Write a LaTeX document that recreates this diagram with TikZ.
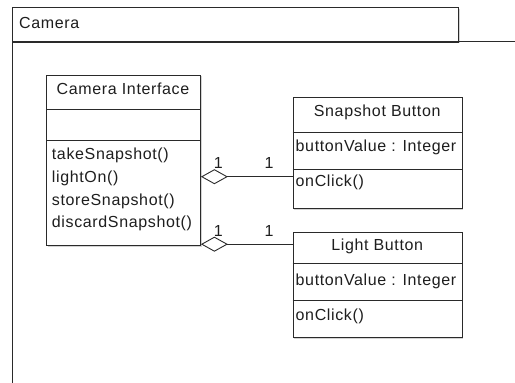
\documentclass[tikz,border=0pt]{standalone}
\usepackage{fontspec}
\setmainfont{Liberation Sans}[LetterSpace=4]
\usetikzlibrary{arrows.meta,shadows}

\definecolor{ink}{HTML}{1E1E1E}
\definecolor{edge}{HTML}{2A2A2A}

\tikzset{
  umlfont/.style={font=\fontsize{16}{19}\selectfont, text=ink},
  box/.style={draw=edge, line width=0.9pt, fill=white, inner sep=0pt,
              anchor=north west,
              drop shadow={shadow xshift=1.2pt, shadow yshift=-1.2pt, opacity=0.35}},
  ghost/.style={inner sep=0pt, anchor=north west},
  sep/.style={draw=edge, line width=0.9pt},
  lefttext/.style={umlfont, inner sep=0pt, anchor=base west},
  midtext/.style={umlfont, inner sep=0pt, anchor=base},
  mult/.style={umlfont, inner sep=0pt, anchor=base},
  agg/.style={draw=edge, line width=0.9pt,
              {Diamond[open, length=27pt, width=15pt, line width=0.9pt]}-}
}

\begin{document}
\begin{tikzpicture}[x=1pt, y=-1pt]
  \useasboundingbox (0,0) rectangle (515,383);

  % package frame: tab plus open body
  \node[box] (pkgtab) at (12.3,7.3) [minimum width=446pt, minimum height=34.4pt] {};
  \node[ghost, minimum width=510pt, minimum height=350pt] (pkgbody) at (12.3,41.7) {};
  \draw[sep] (pkgbody.north east) -- (pkgbody.north west) -- (pkgbody.south west);
  \node[lefttext] (pkgname) at (19,28.3) {Camera};

  % class: Camera Interface
  \node[box, minimum width=154pt, minimum height=170.3pt] (ci) at (46,74.7) {};
  \draw[sep] (ci.west |- 0,109) -- (ci.east |- 0,109);
  \draw[sep] (ci.west |- 0,140) -- (ci.east |- 0,140);
  \node[midtext] (ciname) at (123,94.7) {Camera Interface};
  \node[lefttext] (m1) at (51.7,159.5) {takeSnapshot()};
  \node[lefttext] (m2) at (51.7,182.2) {lightOn()};
  \node[lefttext] (m3) at (51.7,205.0) {storeSnapshot()};
  \node[lefttext] (m4) at (51.7,227.7) {discardSnapshot()};

  % class: Snapshot Button
  \node[box, minimum width=169pt, minimum height=111pt] (snap) at (292.7,97.3) {};
  \draw[sep] (snap.west |- 0,132.3) -- (snap.east |- 0,132.3);
  \draw[sep] (snap.west |- 0,169) -- (snap.east |- 0,169);
  \node[midtext] (snapname) at (377.2,116.7) {Snapshot Button};
  \node[lefttext] (snapattr) at (295.5,151.7) {buttonValue : Integer};
  \node[lefttext] (snapop) at (295.5,186.8) {onClick()};

  % class: Light Button
  \node[box, minimum width=169pt, minimum height=105pt] (light) at (292.7,232.3) {};
  \draw[sep] (light.west |- 0,263.3) -- (light.east |- 0,263.3);
  \draw[sep] (light.west |- 0,300) -- (light.east |- 0,300);
  \node[midtext] (lightname) at (377.2,250.7) {Light Button};
  \node[lefttext] (lightattr) at (295.5,285.7) {buttonValue : Integer};
  \node[lefttext] (lightop) at (295.5,320.8) {onClick()};

  % aggregations
  \draw[agg] (ci.east |- 0,176.7) -- (snap.west |- 0,176.7);
  \draw[agg] (ci.east |- 0,244.2) -- (light.west |- 0,244.2);
  \node[mult] (s1) at (218.3,168) {1};
  \node[mult] (s2) at (269,168) {1};
  \node[mult] (l1) at (218.3,236.7) {1};
  \node[mult] (l2) at (269,236.7) {1};
\end{tikzpicture}
\end{document}
